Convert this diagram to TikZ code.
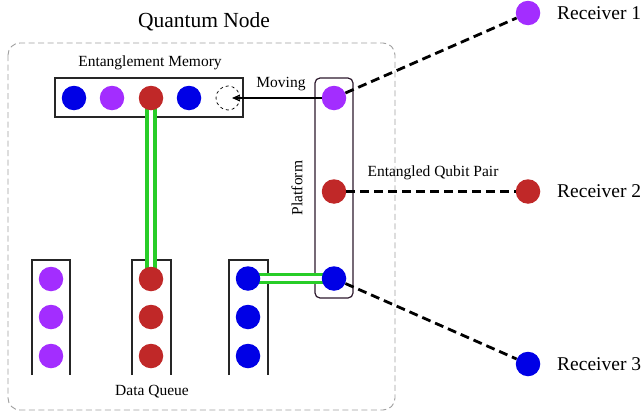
\documentclass[tikz,border=0pt]{standalone}
\usepackage{fontspec}
\setmainfont{Liberation Serif}
\usetikzlibrary{arrows.meta}
\definecolor{qpurple}{RGB}{163,45,255}
\definecolor{qred}{RGB}{192,40,40}
\definecolor{qblue}{RGB}{0,0,230}
\definecolor{qgreen}{RGB}{40,205,40}
\definecolor{platcol}{RGB}{45,25,45}
\tikzset{
  qubit/.style={circle, minimum size=24.5pt, inner sep=0pt, fill=#1},
  emptyqubit/.style={circle, minimum size=24pt, inner sep=0pt, draw=black, dashed, line width=0.7pt},
  qbox/.style={draw=black!85, line width=1.2pt},
  greenlink/.style={draw=qgreen, double=white, double distance=4.5pt, line width=3.3pt},
  entlink/.style={draw=black, line width=2.8pt, dash pattern=on 9pt off 5pt},
  lbl/.style={font=\fontsize{15.5}{18}\selectfont, inner sep=0pt},
  biglbl/.style={font=\fontsize{19.5}{22}\selectfont, inner sep=0pt},
}
\begin{document}
\begin{tikzpicture}[x=1pt,y=-1pt]
\useasboundingbox (0,0) rectangle (642,415);
% quantum node frame
\draw[gray!75, dash pattern=on 6pt off 3.5pt, line width=0.9pt, rounded corners=12pt] (8,43) rectangle (395,410);
\node[lbl, font=\fontsize{21.5}{24}\selectfont] (qntitle) at (204,22) {Quantum Node};

% entanglement memory
\node[qbox, minimum width=188pt, minimum height=39pt, inner sep=0pt] (mem) at (149,97.5) {};
\node[lbl] (memlbl) at (150,63) {Entanglement Memory};

% platform
\node[draw=platcol, line width=1.2pt, rounded corners=5pt, minimum width=38pt, minimum height=220pt, inner sep=0pt] (plat) at (334,188) {};
\node[lbl, rotate=90] (platlbl) at (297,188) {Platform};

% queue boxes (open at bottom)
\draw[qbox] (32,375) -- (32,260) -- (70,260) -- (70,375);
\draw[qbox] (132,375) -- (132,260) -- (171,260) -- (171,375);
\draw[qbox] (229,375) -- (229,260) -- (268,260) -- (268,375);
\node[lbl] (dqlbl) at (152,392) {Data Queue};

% memory qubits
\node[qubit=qblue] (m1) at (74,98) {};
\node[qubit=qpurple] (m2) at (112,98) {};
\coordinate (m3c) at (151,98);
\node[emptyqubit] (m5) at (228,98) {};

% platform qubits (positions)
\coordinate (p1c) at (334,98);
\coordinate (p2c) at (334,191.5);
\coordinate (p3c) at (334,278.5);

% queue qubits positions
\coordinate (qb1c) at (151,279);
\coordinate (qc1c) at (248,278.5);

% green links (behind circles)
\draw[greenlink] (m3c) -- (qb1c);
\draw[greenlink] (qc1c) -- (p3c);

% receivers
\node[qubit=qpurple] (r1) at (528,13) {};
\node[qubit=qred] (r2) at (528,191.5) {};
\node[qubit=qblue] (r3) at (528,364) {};

% circles on top
\node[qubit=qred] (m3) at (m3c) {};
\node[qubit=qblue] (m4) at (189,98) {};
\node[qubit=qpurple] (p1) at (p1c) {};
\node[qubit=qred] (p2) at (p2c) {};
\node[qubit=qblue] (p3) at (p3c) {};

\node[qubit=qpurple] (qa1) at (51,279) {};
\node[qubit=qpurple] (qa2) at (51,317) {};
\node[qubit=qpurple] (qa3) at (51,356) {};
\node[qubit=qred] (qb1) at (qb1c) {};
\node[qubit=qred] (qb2) at (151,317) {};
\node[qubit=qred] (qb3) at (151,356) {};
\node[qubit=qblue] (qc1) at (qc1c) {};
\node[qubit=qblue] (qc2) at (248,317) {};
\node[qubit=qblue] (qc3) at (248,356) {};

% moving arrow
\draw[-{Stealth[length=8pt,width=7pt]}, line width=1.2pt, shorten >=4pt] (p1.west) -- (m5.center);
\node[lbl] (movlbl) at (281,84) {Moving};

% entangled pairs
\draw[entlink] (p1) -- (r1);
\draw[entlink] (p2) -- (r2);
\draw[entlink] (p3) -- (r3);
\node[lbl] (eqlbl) at (433,173) {Entangled Qubit Pair};

% receiver labels
\node[biglbl, anchor=west] (r1lbl) at (557,13) {Receiver 1};
\node[biglbl, anchor=west] (r2lbl) at (557,191.5) {Receiver 2};
\node[biglbl, anchor=west] (r3lbl) at (557,364) {Receiver 3};
\end{tikzpicture}
\end{document}
